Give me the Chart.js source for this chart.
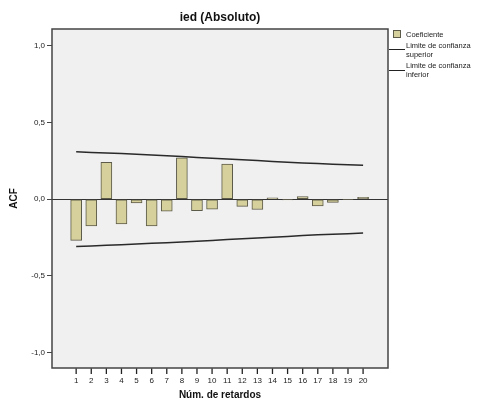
<!DOCTYPE html>
<html>
<head>
<meta charset="utf-8">
<script src="https://cdn.jsdelivr.net/npm/chart.js@4/dist/chart.umd.min.js"></script>
<style>
  body { margin: 0; background: #fff; }
  #wrap { width: 483px; height: 403px; }
</style>
</head>
<body>
<div id="wrap"><canvas id="acfChart" width="483" height="403"></canvas></div>
<script>
// lags and values
var lags = [1, 2, 3, 4, 5, 6, 7, 8, 9, 10, 11, 12, 13, 14, 15, 16, 17, 18, 19, 20];
var acf = [-0.268, -0.174, 0.240, -0.161, -0.024, -0.174, -0.078, 0.270, -0.074, -0.065,
           0.229, -0.046, -0.067, 0.010, -0.005, 0.017, -0.044, -0.020, -0.003, 0.013];
var upperLimit = [0.309, 0.305, 0.302, 0.298, 0.293, 0.288, 0.284, 0.278, 0.273, 0.268,
                  0.263, 0.258, 0.252, 0.247, 0.242, 0.237, 0.233, 0.229, 0.225, 0.222];
var lowerLimit = [-0.308, -0.304, -0.300, -0.296, -0.292, -0.287, -0.283, -0.278, -0.273, -0.268,
                  -0.263, -0.258, -0.252, -0.247, -0.242, -0.237, -0.232, -0.228, -0.224, -0.220];
var yTicks = [-1.0, -0.5, 0.0, 0.5, 1.0];

var FONT = "'Liberation Sans', Arial, sans-serif";
var barFill = '#d6d19c';
var barEdge = '#5c5a48';

function pts(ys) {
  return lags.map(function (l, i) { return { x: l, y: ys[i] }; });
}

// background, border, tick marks, title and legend
var decor = {
  id: 'decor',
  beforeDraw: function (chart) {
    var c = chart.ctx, a = chart.chartArea;
    c.save();
    c.fillStyle = '#f0f0f0';
    c.fillRect(a.left, a.top, a.right - a.left, a.bottom - a.top);
    c.restore();
  },
  afterDraw: function (chart) {
    var c = chart.ctx, a = chart.chartArea, xs = chart.scales.x;
    c.save();
    c.strokeStyle = '#444';
    c.lineWidth = 1.5;
    c.strokeRect(a.left, a.top, a.right - a.left, a.bottom - a.top);

    // x tick marks under the plot
    c.strokeStyle = '#222';
    c.lineWidth = 1.3;
    for (var i = 0; i < lags.length; i++) {
      var px = xs.getPixelForValue(lags[i]);
      c.beginPath();
      c.moveTo(px, a.bottom + 0.5);
      c.lineTo(px, a.bottom + 6);
      c.stroke();
    }

    c.fillStyle = '#111';
    c.font = 'bold 12px ' + FONT;
    c.textAlign = 'center';
    c.textBaseline = 'middle';
    c.fillText('ied (Absoluto)', (a.left + a.right) / 2, 18);

    // legend
    c.textAlign = 'left';
    c.font = '7.5px ' + FONT;
    c.fillStyle = barFill;
    c.fillRect(393.5, 30.5, 7, 7);
    c.strokeStyle = barEdge;
    c.lineWidth = 1;
    c.strokeRect(393.5, 30.5, 7, 7);
    c.fillStyle = '#222';
    c.fillText('Coeficiente', 406, 35);

    c.strokeStyle = '#222';
    c.lineWidth = 1.2;
    c.beginPath();
    c.moveTo(389, 49.5); c.lineTo(405, 49.5);
    c.moveTo(389, 70.5); c.lineTo(405, 70.5);
    c.stroke();
    c.fillText('Limite de confianza', 406, 46);
    c.fillText('superior', 406, 55);
    c.fillText('Limite de confianza', 406, 66);
    c.fillText('inferior', 406, 75);
    c.restore();
  }
};

var ctx = document.getElementById('acfChart').getContext('2d');
var chart = new Chart(ctx, {
  data: {
    datasets: [
      {
        type: 'bar',
        label: 'Coeficiente',
        data: pts(acf),
        backgroundColor: barFill,
        borderColor: barEdge,
        borderWidth: 1,
        borderSkipped: false,
        barThickness: 11,
        order: 2
      },
      {
        type: 'line',
        label: 'Limite de confianza superior',
        data: pts(upperLimit),
        borderColor: '#2a2a2a',
        borderWidth: 1.5,
        pointRadius: 0,
        fill: false,
        order: 1
      },
      {
        type: 'line',
        label: 'Limite de confianza inferior',
        data: pts(lowerLimit),
        borderColor: '#2a2a2a',
        borderWidth: 1.5,
        pointRadius: 0,
        fill: false,
        order: 1
      }
    ]
  },
  options: {
    responsive: false,
    animation: false,
    layout: { padding: { left: 0, top: 29, right: 95, bottom: 0 } },
    plugins: {
      legend: { display: false },
      tooltip: { enabled: false }
    },
    scales: {
      x: {
        type: 'linear',
        offset: false,
        min: -0.6,
        max: 21.65,
        afterFit: function (s) { s.height = 35; },
        afterBuildTicks: function (s) {
          s.ticks = lags.map(function (v) { return { value: v }; });
        },
        ticks: {
          font: { family: FONT, size: 8 },
          color: '#222',
          padding: 3,
          maxRotation: 0,
          autoSkip: false
        },
        grid: {
          offset: false,
          drawOnChartArea: false,
          tickLength: 5,
          tickColor: 'rgba(0,0,0,0)'
        },
        border: { display: false },
        title: {
          display: true,
          text: 'Núm. de retardos',
          font: { family: FONT, size: 10, weight: 'bold' },
          color: '#111',
          padding: { top: 0, bottom: 2 }
        }
      },
      y: {
        type: 'linear',
        min: -1.1,
        max: 1.11,
        afterFit: function (s) { s.width = 52; },
        afterBuildTicks: function (s) {
          s.ticks = yTicks.map(function (v) { return { value: v }; });
        },
        ticks: {
          font: { family: FONT, size: 8 },
          color: '#222',
          padding: 2,
          callback: function (v) { return Number(v).toFixed(1).replace('.', ','); }
        },
        grid: {
          drawOnChartArea: true,
          tickLength: 5,
          tickColor: '#444',
          color: function (c) {
            return c.tick && c.tick.value === 0 ? '#333' : 'rgba(0,0,0,0)';
          },
          lineWidth: 1
        },
        border: { display: false },
        title: {
          display: true,
          text: 'ACF',
          font: { family: FONT, size: 10, weight: 'bold' },
          color: '#111',
          padding: { top: 8, bottom: 0 }
        }
      }
    }
  },
  plugins: [decor]
});
</script>
</body>
</html>
